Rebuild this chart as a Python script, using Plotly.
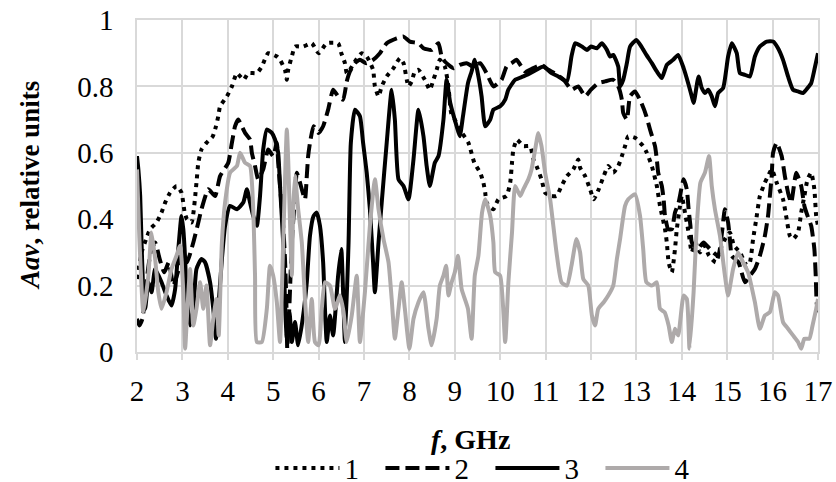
import plotly.graph_objects as go

# ---- Series 1 (dotted) ----
f1 = [2.0, 2.1, 2.2, 2.29, 2.43, 2.54, 2.62, 2.73, 2.87, 2.98, 3.05, 3.1, 3.2, 3.31, 3.35, 3.42, 3.53, 3.67, 3.74, 3.79,
      3.83, 3.98, 4.09, 4.2, 4.35, 4.45, 4.64, 4.75, 4.89, 5.08, 5.15, 5.26, 5.3, 5.33, 5.41, 5.48, 5.66, 5.85, 6.0, 6.18,
      6.43, 6.5, 6.58, 6.62, 6.69, 6.8, 6.95, 7.06, 7.2, 7.24, 7.32, 7.39, 7.5, 7.65, 7.79, 7.87, 7.98, 8.05, 8.12, 8.2,
      8.34, 8.45, 8.53, 8.6, 8.67, 8.78, 8.86, 8.92, 9.0, 9.11, 9.3, 9.43, 9.56, 9.63, 9.67, 9.7, 9.85, 9.96, 10.14, 10.22,
      10.26, 10.29, 10.37, 10.51, 10.66, 10.73, 10.8, 10.91, 10.99, 11.13, 11.24, 11.35, 11.47, 11.61, 11.72, 11.76, 11.87,
      11.98, 12.06, 12.17, 12.28, 12.38, 12.49, 12.6, 12.68, 12.75, 12.82, 12.97, 13.15, 13.23, 13.34, 13.45, 13.52, 13.63,
      13.67, 13.71, 13.78, 13.85, 13.89, 13.96, 14.0, 14.07, 14.15, 14.22, 14.3, 14.4, 14.5, 14.6, 14.75, 14.85, 14.95,
      15.06, 15.15, 15.28, 15.43, 15.5, 15.57, 15.64, 15.72, 15.83, 15.9, 15.98, 16.09, 16.23, 16.31, 16.38, 16.45, 16.56,
      16.63, 16.7, 16.77, 16.85, 16.92, 16.96, 17.0]
a1 = [0.22, 0.30, 0.34, 0.37, 0.39, 0.42, 0.45, 0.48, 0.50, 0.48, 0.42, 0.40, 0.39, 0.51, 0.57, 0.61, 0.63, 0.65, 0.68, 0.71,
      0.74, 0.77, 0.80, 0.84, 0.82, 0.84, 0.84, 0.86, 0.90, 0.89, 0.88, 0.85, 0.82, 0.85, 0.89, 0.92, 0.92, 0.93, 0.90, 0.93,
      0.93, 0.90, 0.87, 0.84, 0.85, 0.875, 0.90, 0.89, 0.85, 0.80, 0.77, 0.80, 0.83, 0.855, 0.885, 0.87, 0.80, 0.815, 0.845, 0.85,
      0.82, 0.79, 0.82, 0.85, 0.88, 0.86, 0.80, 0.72, 0.70, 0.67, 0.63, 0.57, 0.54, 0.51, 0.48, 0.45, 0.43, 0.46, 0.47, 0.51,
      0.57, 0.61, 0.64, 0.62, 0.62, 0.58, 0.56, 0.52, 0.48, 0.47, 0.47, 0.50, 0.53, 0.55, 0.58, 0.555, 0.53,
      0.49, 0.46, 0.49, 0.53, 0.56, 0.54, 0.56, 0.59, 0.62, 0.65, 0.645, 0.62, 0.60, 0.56, 0.50, 0.44, 0.37,
      0.33, 0.27, 0.24, 0.31, 0.37, 0.44, 0.47, 0.42, 0.36, 0.30, 0.33, 0.30, 0.32, 0.29, 0.27, 0.31, 0.34,
      0.36, 0.32, 0.30, 0.26, 0.27, 0.34, 0.40, 0.47, 0.51, 0.53, 0.55, 0.51, 0.46, 0.40, 0.35, 0.34, 0.36,
      0.42, 0.47, 0.52, 0.54, 0.49, 0.41, 0.38]

# ---- Series 2 (dashed) ----
f2 = [2.0, 2.05, 2.12, 2.2, 2.3, 2.4, 2.5, 2.6, 2.7, 2.8, 2.9, 3.0, 3.1, 3.24, 3.35, 3.42, 3.57, 3.72, 3.83, 4.01,
      4.09, 4.16, 4.23, 4.38, 4.49, 4.53, 4.6, 4.67, 4.78, 4.89, 5.0, 5.08, 5.11, 5.15, 5.22, 5.26, 5.29, 5.31, 5.36, 5.41,
      5.48, 5.52, 5.59, 5.7, 5.74, 5.77, 5.81, 5.89, 6.0, 6.1, 6.21, 6.32, 6.43, 6.54, 6.62, 6.69, 6.8, 6.91, 7.05, 7.2,
      7.35, 7.5, 7.72, 7.87, 8.01, 8.2, 8.31, 8.49, 8.64, 8.71, 8.78, 8.97, 9.11, 9.26, 9.4, 9.56, 9.7, 9.85, 10.03, 10.14,
      10.25, 10.36, 10.55, 10.73, 10.91, 11.06, 11.2, 11.4, 11.57, 11.72, 11.87, 12.0, 12.16, 12.31, 12.49, 12.6, 12.68,
      12.71, 12.79, 12.86, 12.97, 13.11, 13.22, 13.3, 13.41, 13.45, 13.48, 13.56, 13.6, 13.63, 13.7, 13.78, 13.85, 13.93,
      14.04, 14.11, 14.15, 14.19, 14.22, 14.35, 14.48, 14.62, 14.8, 14.95, 15.02, 15.06, 15.1, 15.25, 15.39, 15.5, 15.61,
      15.72, 15.83, 15.9, 15.94, 15.98, 16.01, 16.09, 16.2, 16.27, 16.34, 16.41, 16.52, 16.63, 16.7, 16.77, 16.85, 16.92,
      16.95, 16.97, 17.0]
a2 = [0.10, 0.08, 0.10, 0.20, 0.30, 0.33, 0.28, 0.24, 0.27, 0.20, 0.24, 0.30, 0.27, 0.33, 0.39, 0.43, 0.49, 0.47, 0.53, 0.57,
      0.63, 0.68, 0.70, 0.66, 0.64, 0.60, 0.56, 0.52, 0.55, 0.61, 0.59, 0.63, 0.57, 0.50, 0.38, 0.28, 0.15, 0.01, 0.15, 0.33,
      0.47, 0.54, 0.51, 0.46, 0.53, 0.59, 0.63, 0.68, 0.66, 0.68, 0.73, 0.79, 0.77, 0.76, 0.815, 0.845, 0.87, 0.88, 0.87, 0.88,
      0.90, 0.93, 0.945, 0.95, 0.935, 0.93, 0.915, 0.91, 0.93, 0.89, 0.875, 0.855, 0.865, 0.87, 0.86, 0.87, 0.84, 0.80, 0.82, 0.86,
      0.87, 0.88, 0.845, 0.855, 0.865, 0.85, 0.84, 0.82, 0.79, 0.80, 0.77, 0.79, 0.81, 0.815, 0.82, 0.80, 0.76,
      0.72, 0.70, 0.77, 0.785, 0.75, 0.71, 0.67, 0.62, 0.58, 0.54, 0.50, 0.46, 0.41, 0.37, 0.37, 0.42, 0.45,
      0.52, 0.49, 0.43, 0.38, 0.33, 0.31, 0.33, 0.31, 0.29, 0.43, 0.39, 0.34, 0.29, 0.27, 0.21, 0.23, 0.25,
      0.29, 0.35, 0.41, 0.47, 0.53, 0.60, 0.63, 0.59, 0.53, 0.48, 0.45, 0.54, 0.50, 0.44, 0.41, 0.38, 0.31,
      0.23, 0.15, 0.12]

# ---- Series 3 (solid black) ----
f3 = [2.0, 2.03, 2.07, 2.1, 2.14, 2.18, 2.25, 2.32, 2.4, 2.54, 2.65, 2.76, 2.84, 2.91, 2.98, 3.02, 3.06, 3.09, 3.17, 3.24,
      3.31, 3.42, 3.5, 3.61, 3.68, 3.74, 3.79, 3.87, 3.94, 4.05, 4.2, 4.34, 4.42, 4.49, 4.56, 4.64, 4.71, 4.78, 4.86, 4.97,
      5.04, 5.11, 5.15, 5.22, 5.26, 5.3, 5.36, 5.41, 5.48, 5.55, 5.65, 5.74, 5.81, 5.89, 5.96, 6.03, 6.1, 6.14, 6.18, 6.25,
      6.32, 6.43, 6.5, 6.54, 6.58, 6.66, 6.71, 6.8, 6.91, 6.98, 7.06, 7.13, 7.2, 7.24, 7.32, 7.39, 7.5, 7.61, 7.68, 7.76,
      7.87, 7.98, 8.09, 8.2, 8.31, 8.38, 8.45, 8.56, 8.64, 8.75, 8.82, 8.9, 9.04, 9.11, 9.18, 9.29, 9.37, 9.44, 9.52, 9.59,
      9.67, 9.78, 9.85, 10.0, 10.11, 10.18, 10.33, 10.51, 10.66, 10.8, 10.95, 11.13, 11.28, 11.47, 11.57, 11.65, 11.8, 11.91,
      12.0, 12.13, 12.24, 12.35, 12.42, 12.49, 12.6, 12.64, 12.71, 12.79, 12.86, 13.0, 13.11, 13.22, 13.34, 13.45, 13.56,
      13.67, 13.81, 13.92, 14.04, 14.15, 14.22, 14.26, 14.37, 14.44, 14.51, 14.58, 14.66, 14.73, 14.8, 14.91, 15.02, 15.1,
      15.21, 15.28, 15.39, 15.5, 15.61, 15.72, 15.87, 16.01, 16.12, 16.23, 16.34, 16.45, 16.56, 16.67, 16.77, 16.85, 16.92,
      17.0]
a3 = [0.59, 0.55, 0.47, 0.33, 0.18, 0.13, 0.21, 0.18, 0.25, 0.21, 0.17, 0.14, 0.19, 0.31, 0.41, 0.37, 0.28, 0.17, 0.08, 0.13,
      0.25, 0.28, 0.27, 0.21, 0.13, 0.04, 0.13, 0.28, 0.38, 0.44, 0.43, 0.45, 0.49, 0.45, 0.41, 0.38, 0.47, 0.61, 0.67, 0.66,
      0.64, 0.60, 0.50, 0.33, 0.15, 0.04, 0.12, 0.03, 0.09, 0.02, 0.10, 0.21, 0.35, 0.41, 0.42, 0.38, 0.27, 0.13, 0.03, 0.11,
      0.05, 0.23, 0.31, 0.18, 0.03, 0.33, 0.63, 0.73, 0.71, 0.63, 0.54, 0.43, 0.27, 0.18, 0.33, 0.45, 0.63, 0.79, 0.70, 0.52,
      0.50, 0.46, 0.58, 0.73, 0.65, 0.56, 0.50, 0.57, 0.59, 0.70, 0.82, 0.75, 0.68, 0.65, 0.71, 0.81, 0.845, 0.88, 0.83, 0.77,
      0.68, 0.70, 0.73, 0.74, 0.76, 0.79, 0.82, 0.83, 0.84, 0.85, 0.86, 0.84, 0.83, 0.815, 0.89, 0.93, 0.92, 0.91,
      0.92, 0.915, 0.93, 0.91, 0.89, 0.895, 0.86, 0.80, 0.82, 0.87, 0.92, 0.94, 0.92, 0.895, 0.87, 0.845, 0.825,
      0.865, 0.88, 0.895, 0.855, 0.805, 0.77, 0.75, 0.83, 0.795, 0.78, 0.79, 0.77, 0.74, 0.78, 0.795, 0.89, 0.93,
      0.90, 0.84, 0.835, 0.83, 0.89, 0.92, 0.935, 0.935, 0.915, 0.88, 0.83, 0.79, 0.785, 0.78, 0.795, 0.81, 0.85,
      0.90]

# ---- Series 4 (solid gray) ----
f4 = [2.0, 2.05, 2.14, 2.25, 2.32, 2.4, 2.47, 2.54, 2.65, 2.76, 2.87, 2.95, 3.02, 3.06, 3.11, 3.17, 3.24, 3.31, 3.39, 3.46,
      3.53, 3.61, 3.68, 3.75, 3.8, 3.87, 3.94, 4.05, 4.2, 4.27, 4.38, 4.49, 4.56, 4.6, 4.64, 4.75, 4.86, 4.93, 5.0, 5.08,
      5.15, 5.22, 5.3, 5.33, 5.41, 5.44, 5.48, 5.55, 5.63, 5.7, 5.77, 5.85, 5.92, 6.0, 6.07, 6.14, 6.25, 6.36, 6.47, 6.55,
      6.62, 6.73, 6.84, 6.91, 7.02, 7.13, 7.24, 7.32, 7.43, 7.54, 7.61, 7.68, 7.76, 7.83, 7.9, 8.0, 8.09, 8.2, 8.31, 8.42,
      8.49, 8.6, 8.67, 8.75, 8.81, 8.86, 8.93, 9.0, 9.07, 9.15, 9.22, 9.29, 9.37, 9.44, 9.52, 9.6, 9.67, 9.78, 9.85, 9.89,
      10.0, 10.11, 10.18, 10.26, 10.33, 10.44, 10.51, 10.62, 10.69, 10.77, 10.84, 10.91, 10.99, 11.1, 11.17, 11.24, 11.35,
      11.47, 11.57, 11.68, 11.76, 11.83, 11.94, 12.02, 12.09, 12.16, 12.28, 12.38, 12.49, 12.57, 12.64, 12.75, 12.82, 12.97,
      13.08, 13.15, 13.22, 13.34, 13.45, 13.52, 13.62, 13.71, 13.78, 13.85, 13.92, 14.04, 14.11, 14.17, 14.26, 14.33, 14.41,
      14.51, 14.6, 14.66, 14.73, 14.84, 14.95, 15.02, 15.13, 15.24, 15.35, 15.46, 15.61, 15.72, 15.83, 15.94, 16.05, 16.12,
      16.23, 16.34, 16.45, 16.56, 16.63, 16.7, 16.81, 16.88, 16.96, 17.0]
a4 = [0.55, 0.35, 0.12, 0.23, 0.36, 0.28, 0.18, 0.13, 0.18, 0.25, 0.29, 0.32, 0.18, 0.01, 0.13, 0.25, 0.08, 0.13, 0.21, 0.13,
      0.20, 0.02, 0.10, 0.16, 0.05, 0.33, 0.45, 0.54, 0.56, 0.60, 0.57, 0.56, 0.43, 0.23, 0.03, 0.03, 0.13, 0.26, 0.23, 0.15,
      0.03, 0.33, 0.67, 0.58, 0.23, 0.43, 0.53, 0.43, 0.33, 0.16, 0.03, 0.16, 0.03, 0.02, 0.13, 0.21, 0.20, 0.13, 0.17, 0.12,
      0.03, 0.11, 0.23, 0.03, 0.18, 0.38, 0.52, 0.43, 0.34, 0.27, 0.16, 0.04, 0.13, 0.21, 0.13, 0.01, 0.10, 0.15, 0.18, 0.07,
      0.02, 0.10, 0.20, 0.23, 0.26, 0.17, 0.21, 0.24, 0.29, 0.19, 0.16, 0.13, 0.04, 0.23, 0.29, 0.42, 0.46, 0.41, 0.33, 0.24,
      0.23, 0.03, 0.21, 0.36, 0.50, 0.47, 0.49, 0.52, 0.55, 0.61, 0.66, 0.62, 0.54, 0.46, 0.38, 0.30, 0.21,
      0.20, 0.26, 0.34, 0.30, 0.22, 0.20, 0.11, 0.08, 0.13, 0.15, 0.17, 0.20, 0.28, 0.34, 0.44, 0.46, 0.475,
      0.41, 0.31, 0.21, 0.20, 0.21, 0.13, 0.12, 0.08, 0.03, 0.07, 0.05, 0.17, 0.16, 0.01, 0.18, 0.38, 0.51,
      0.54, 0.59, 0.50, 0.43, 0.35, 0.23, 0.17, 0.25, 0.30, 0.27, 0.24, 0.15, 0.07, 0.11, 0.12, 0.18, 0.17,
      0.09, 0.07, 0.05, 0.03, 0.01, 0.04, 0.04, 0.08, 0.13, 0.16]

names = ["1", "2", "3", "4"]
x_ticks = list(range(2, 18))
y_ticks = [0, 0.2, 0.4, 0.6, 0.8, 1]

FONT = "Liberation Serif"
GRID = "#d9d9d9"

fig = go.Figure()
styles = [
    dict(color="black", width=4, dash="4px,5px"),
    dict(color="black", width=4, dash="14px,6px"),
    dict(color="black", width=4, dash="solid"),
    dict(color="#aeaaaa", width=4, dash="solid"),
]
for fx, ay, nm, st in zip([f1, f2, f3, f4], [a1, a2, a3, a4], names, styles):
    fig.add_trace(go.Scatter(x=fx, y=ay, name=nm, mode="lines",
                             line=dict(shape="spline", smoothing=0.5, **st)))

fig.update_layout(
    width=836, height=482,
    margin=dict(l=137, r=18, t=20, b=130, autoexpand=False),
    paper_bgcolor="white", plot_bgcolor="white",
    font=dict(family=FONT, size=29, color="black"),
    showlegend=True,
    legend=dict(orientation="h", x=0.519, xanchor="center", y=-0.35, yanchor="middle",
                font=dict(family=FONT, size=29, color="black"), tracegroupgap=0, traceorder="normal",
                itemwidth=64, entrywidth=31, entrywidthmode="pixels", bgcolor="rgba(0,0,0,0)"),
    xaxis=dict(range=[2, 17], tickvals=x_ticks, showgrid=True, gridcolor=GRID, gridwidth=1.5,
               showline=True, linecolor=GRID, linewidth=1.5, mirror=True,
               ticks="outside", ticklen=6, tickcolor=GRID, tickwidth=1.5,
               tickfont=dict(family=FONT, size=29, color="black"),
               ticklabelstandoff=6, zeroline=False, fixedrange=True, automargin=False),
    yaxis=dict(range=[0, 1], tickvals=y_ticks, showgrid=True, gridcolor=GRID, gridwidth=1.5,
               showline=True, linecolor=GRID, linewidth=1.5, mirror=True,
               tickfont=dict(family=FONT, size=29, color="black"),
               ticks="", ticklabelstandoff=16, zeroline=False, fixedrange=True, automargin=False),
    annotations=[
        dict(text="<b><i>f</i>, GHz</b>", xref="paper", yref="paper", x=0.489, y=-0.265,
             xanchor="center", yanchor="middle", showarrow=False,
             font=dict(family=FONT, size=28, color="black")),
        dict(text="<b><i>Aav</i>, relative units</b>", xref="paper", yref="paper", x=-0.157, y=0.5,
             xanchor="center", yanchor="middle", textangle=-90, showarrow=False,
             font=dict(family=FONT, size=27, color="black")),
    ],
)

# remove the default 8px page margin so the chart fills the window exactly; hide the mode bar
fig.write_html("out.html", post_script="document.body.style.margin='0px';",
               config={"displayModeBar": False})
